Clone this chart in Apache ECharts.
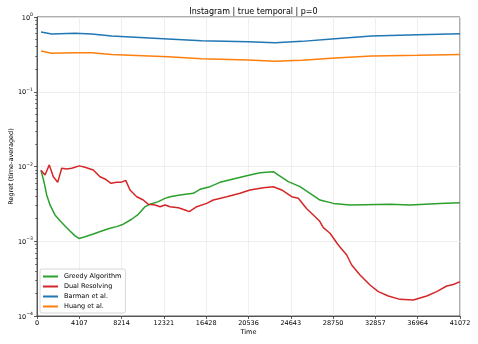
<!DOCTYPE html>
<html>
<head>
<meta charset="utf-8">
<script src="https://cdn.jsdelivr.net/npm/echarts@6/dist/echarts.min.js"></script>
<style>
    html, body { margin: 0; padding: 0; background: #fff; }
    #chart { width: 478px; height: 344px; }
</style>
</head>
<body>
<div id="chart"></div>
<script>
    // x 轴刻度（时间）
    const xTickStep = 4107.2
    const xTickLabels = ['0','4107','8214','12321','16428','20536','24643','28750','32857','36964','41072']

    // Barman / Huang 的取样时间
    const timeTop = [388,1430,3690,5310,7250,12720,15990,20490,23110,25700,28940,32500,37000,41072]
    const barman  = [0.63,0.593,0.605,0.593,0.557,0.508,0.482,0.467,0.454,0.472,0.513,0.557,0.58,0.598]
    const huang   = [0.351,0.327,0.333,0.333,0.316,0.294,0.277,0.266,0.255,0.263,0.283,0.30,0.307,0.316]

    // Greedy Algorithm
    const timeGreedy = [388,709,942,1262,1748,2233,2719,3204,3690,4078,4661,5467,6282,7088,7739,8380,9195,9836,10487,10972,11778,12429,12914,13885,15177,15827,16798,17769,19061,20362,21653,22945,23595,24401,25537,26508,27479,28771,30392,34276,36218,39131,41072]
    const greedy = [0.0089,0.00596,0.00416,0.00306,0.00225,0.00188,0.0016,0.00137,0.00118,0.00109,0.00115,0.00125,0.00137,0.00149,0.00157,0.00169,0.00197,0.00229,0.0029,0.00312,0.00339,0.00375,0.00394,0.00416,0.00438,0.00495,0.00537,0.00614,0.00681,0.00754,0.00826,0.00851,0.00746,0.00627,0.00537,0.00438,0.00356,0.00321,0.00306,0.00312,0.00306,0.00321,0.00328]

    // Dual Resolving
    const timeDual = [388,777,1194,1583,2010,2398,2884,3369,4107,4661,5467,6117,6603,7185,7739,8156,8613,9030,9681,10322,10807,11458,11943,12429,12914,13720,14371,14789,15507,16478,17119,18420,19711,20682,21974,22945,23760,24731,25372,26187,26829,27450,27800,28450,29256,30072,30557,31363,32334,33140,34111,35247,36539,37840,38811,39782,40423,41072]
    const dual = [0.0089,0.00769,0.0105,0.0073,0.00614,0.00946,0.00926,0.00946,0.0102,0.00975,0.00898,0.0073,0.00681,0.00596,0.00614,0.00614,0.00653,0.00485,0.00394,0.00356,0.00312,0.00306,0.0029,0.00306,0.0029,0.0028,0.00262,0.00249,0.0029,0.00321,0.00356,0.00394,0.00438,0.00485,0.00521,0.00537,0.00485,0.00394,0.00375,0.00272,0.00225,0.00185,0.00152,0.00128,0.00089,0.000655,0.000481,0.000354,0.00026,0.000212,0.000185,0.000167,0.000164,0.000185,0.000212,0.000252,0.000264,0.000288]

    // 10 的幂，指数用 rich 上标
    function powLabel (v) {
        let e = Math.round(Math.log10(v))
        return '{b|10}{s|' + (e < 0 ? '\u2212' + (-e) : e) + '}'
    }

    // 对数轴的次刻度
    let minorTicks = []
    for (let e = -4; e < 0; e++) {
        for (let m = 2; m <= 9; m++) minorTicks.push(m * Math.pow(10, e))
    }

    const pair = (xs, ys) => xs.map((x, i) => [x, ys[i]])
    const font = 'DejaVu Sans'

    let chart = echarts.init(document.getElementById('chart'), null, { renderer: 'canvas' })

    let lineSeries = (name, color, xs, ys) => ({
        name,
        type: 'line',
        showSymbol: false,
        symbol: 'none',
        color,
        lineStyle: { width: 1.5, color },
        data: pair(xs, ys),
        animation: false
    })

    chart.setOption({
        backgroundColor: '#fff',
        animation: false,
        title: {
            text: 'Instagram | true temporal | p=0',
            left: 248.5,
            top: 3,
            textAlign: 'center',
            textStyle: { fontFamily: font, fontSize: 8, fontWeight: 'normal', color: '#000' }
        },
        legend: {
            orient: 'vertical',
            left: 40,
            bottom: 31,
            data: ['Greedy Algorithm', 'Dual Resolving', 'Barman et al.', 'Huang et al.'],
            icon: 'rect',
            itemWidth: 15,
            itemHeight: 2,
            itemGap: 3,
            padding: [4, 4, 3, 3],
            backgroundColor: 'rgba(255,255,255,0.8)',
            borderColor: '#cccccc',
            borderWidth: 0.8,
            borderRadius: 2,
            textStyle: { fontFamily: font, fontSize: 6.5, color: '#000', padding: [0, 0, 0, 1] }
        },
        grid: {
            left: 37, right: 18, top: 17, bottom: 28,
            outerBoundsMode: 'none',
            containLabel: false,
            show: true,
            borderColor: '#333',
            borderWidth: 0.8
        },
        xAxis: {
            type: 'value',
            min: 0,
            max: 41072,
            interval: xTickStep,
            name: 'Time',
            nameLocation: 'middle',
            nameGap: 13,
            nameMoveOverlap: false,
            nameTextStyle: { fontFamily: font, fontSize: 6.5, color: '#000' },
            axisLine: { show: true, lineStyle: { color: '#333', width: 0.8 } },
            axisTick: { show: true, length: 3, lineStyle: { color: '#333', width: 0.8 } },
            axisLabel: {
                fontFamily: font, fontSize: 6.5, color: '#000', margin: 4,
                formatter: v => xTickLabels[Math.round(v / xTickStep)]
            },
            splitLine: { show: true, lineStyle: { color: '#ebebeb', width: 0.8 } }
        },
        yAxis: [
            {
                type: 'log',
                logBase: 10,
                min: 0.0001,
                max: 1,
                name: 'Regret (time-averaged)',
                nameLocation: 'middle',
                nameGap: 22,
                nameMoveOverlap: false,
                nameTextStyle: { fontFamily: font, fontSize: 6.5, color: '#000' },
                axisLine: { show: true, lineStyle: { color: '#333', width: 0.8 } },
                axisTick: { show: true, length: 3, lineStyle: { color: '#333', width: 0.8 } },
                axisLabel: {
                    margin: 4,
                    formatter: powLabel,
                    rich: {
                        b: { fontFamily: font, fontSize: 6.5, color: '#000', verticalAlign: 'bottom', lineHeight: 9 },
                        s: { fontFamily: font, fontSize: 4.6, color: '#000', verticalAlign: 'top', lineHeight: 9 }
                    }
                },
                splitLine: { show: true, lineStyle: { color: '#ebebeb', width: 0.8 } }
            },
            {
                // 只画次刻度
                type: 'log',
                logBase: 10,
                min: 0.0001,
                max: 1,
                position: 'left',
                axisLine: { show: false },
                axisLabel: { show: false },
                splitLine: { show: false },
                axisTick: { show: true, length: 2, customValues: minorTicks, lineStyle: { color: '#333', width: 0.6 } }
            }
        ],
        series: [
            lineSeries('Greedy Algorithm', '#2ca02c', timeGreedy, greedy),
            lineSeries('Dual Resolving', '#d62728', timeDual, dual),
            lineSeries('Barman et al.', '#1f77b4', timeTop, barman),
            lineSeries('Huang et al.', '#ff7f0e', timeTop, huang)
        ]
    })
</script>
</body>
</html>
